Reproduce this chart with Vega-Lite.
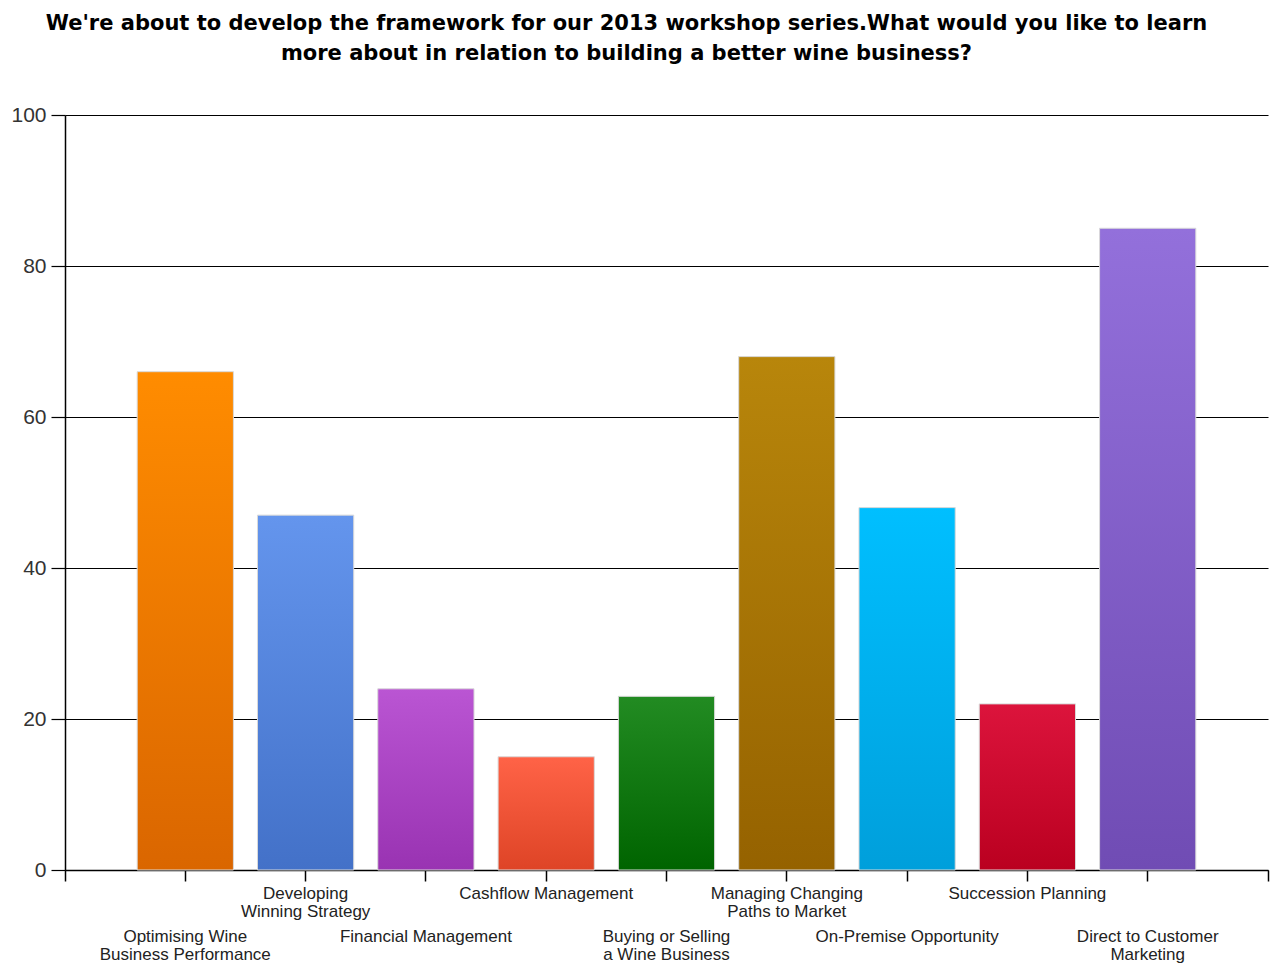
{
  "$schema": "https://vega.github.io/schema/vega-lite/v6.json",
  "width": 1203,
  "height": 755,
  "autosize": {"type": "none"},
  "padding": {"left": 65, "top": 115, "right": 5, "bottom": 94},
  "background": "white",
  "title": {
    "text": ["We're about to develop the framework for our 2013 workshop series.What would you like to learn", "more about in relation to building a better wine business?"],
    "anchor": "middle",
    "font": "DejaVu Sans",
    "fontSize": 21,
    "fontWeight": "bold",
    "color": "black",
    "lineHeight": 30,
    "offset": 40,
    "dx": -40
  },
  "data": {
    "values": [
      {"id": 1, "topic": "Optimising Wine\nBusiness Performance", "value": 66},
      {"id": 2, "topic": "Developing\nWinning Strategy", "value": 47},
      {"id": 3, "topic": "Financial Management", "value": 24},
      {"id": 4, "topic": "Cashflow Management", "value": 15},
      {"id": 5, "topic": "Buying or Selling\na Wine Business", "value": 23},
      {"id": 6, "topic": "Managing Changing\nPaths to Market", "value": 68},
      {"id": 7, "topic": "On-Premise Opportunity", "value": 48},
      {"id": 8, "topic": "Succession Planning", "value": 22},
      {"id": 9, "topic": "Direct to Customer\nMarketing", "value": 85}
    ]
  },
  "layer": [
    {
      "mark": {"type": "bar", "stroke": "#d9d9d9", "strokeWidth": 1},
      "encoding": {
        "x": {
          "field": "topic",
          "type": "nominal",
          "sort": null,
          "scale": {"paddingInner": 0.2, "paddingOuter": 0.6},
          "axis": {
            "orient": "bottom",
            "title": null,
            "labelAngle": 0,
            "labelAlign": "center",
            "labelBaseline": "top",
            "labelFont": "Liberation Sans",
            "labelFontSize": 17,
            "labelColor": "#222",
            "labelLineHeight": 18,
            "labelLimit": 400,
            "labelOverlap": false,
            "labelExpr": "split(datum.label, '\\n')",
            "labelPadding": {"expr": "round(datum.index * 8) % 2 == 0 ? 47 : 4"},
            "tickSize": 11,
            "tickColor": "black",
            "tickWidth": 1.5,
            "domainColor": "black",
            "domainWidth": 1.5,
            "grid": false
          }
        },
        "y": {
          "field": "value",
          "type": "quantitative",
          "scale": {"domain": [0, 100]},
          "axis": {
            "title": null,
            "values": [0, 20, 40, 60, 80, 100],
            "grid": true,
            "gridColor": "black",
            "gridWidth": 1.2,
            "gridOpacity": 1,
            "tickSize": 14,
            "tickColor": "black",
            "tickWidth": 1.2,
            "domainColor": "black",
            "domainWidth": 1.5,
            "labelFont": "Liberation Sans",
            "labelFontSize": 21,
            "labelColor": "#333",
            "labelPadding": 5
          }
        },
        "fill": {
          "condition": [
            {"test": "datum.id === 1", "value": {"gradient": "linear", "x1": 0, "y1": 0, "x2": 0, "y2": 1, "stops": [{"offset": 0, "color": "#FF8C00"}, {"offset": 1, "color": "#DA6600"}]}},
            {"test": "datum.id === 2", "value": {"gradient": "linear", "x1": 0, "y1": 0, "x2": 0, "y2": 1, "stops": [{"offset": 0, "color": "#6495ED"}, {"offset": 1, "color": "#4371C8"}]}},
            {"test": "datum.id === 3", "value": {"gradient": "linear", "x1": 0, "y1": 0, "x2": 0, "y2": 1, "stops": [{"offset": 0, "color": "#BA55D3"}, {"offset": 1, "color": "#9933B2"}]}},
            {"test": "datum.id === 4", "value": {"gradient": "linear", "x1": 0, "y1": 0, "x2": 0, "y2": 1, "stops": [{"offset": 0, "color": "#FF6347"}, {"offset": 1, "color": "#DE4426"}]}},
            {"test": "datum.id === 5", "value": {"gradient": "linear", "x1": 0, "y1": 0, "x2": 0, "y2": 1, "stops": [{"offset": 0, "color": "#228B22"}, {"offset": 1, "color": "#006400"}]}},
            {"test": "datum.id === 6", "value": {"gradient": "linear", "x1": 0, "y1": 0, "x2": 0, "y2": 1, "stops": [{"offset": 0, "color": "#B8860B"}, {"offset": 1, "color": "#956200"}]}},
            {"test": "datum.id === 7", "value": {"gradient": "linear", "x1": 0, "y1": 0, "x2": 0, "y2": 1, "stops": [{"offset": 0, "color": "#00BFFF"}, {"offset": 1, "color": "#009FDB"}]}},
            {"test": "datum.id === 8", "value": {"gradient": "linear", "x1": 0, "y1": 0, "x2": 0, "y2": 1, "stops": [{"offset": 0, "color": "#DC143C"}, {"offset": 1, "color": "#BA0020"}]}}
          ],
          "value": {"gradient": "linear", "x1": 0, "y1": 0, "x2": 0, "y2": 1, "stops": [{"offset": 0, "color": "#9370DB"}, {"offset": 1, "color": "#704CB4"}]}
        }
      }
    },
    {
      "mark": {"type": "point", "opacity": 0},
      "encoding": {
        "x": {
          "datum": 0,
          "type": "quantitative",
          "scale": {"domain": [0, 1]},
          "axis": {
            "orient": "bottom",
            "title": null,
            "values": [0, 1],
            "labels": false,
            "domain": false,
            "grid": false,
            "tickSize": 11,
            "tickColor": "black",
            "tickWidth": 1.5
          }
        }
      }
    }
  ],
  "resolve": {"scale": {"x": "independent"}, "axis": {"x": "independent"}},
  "config": {"view": {"stroke": null}}
}
